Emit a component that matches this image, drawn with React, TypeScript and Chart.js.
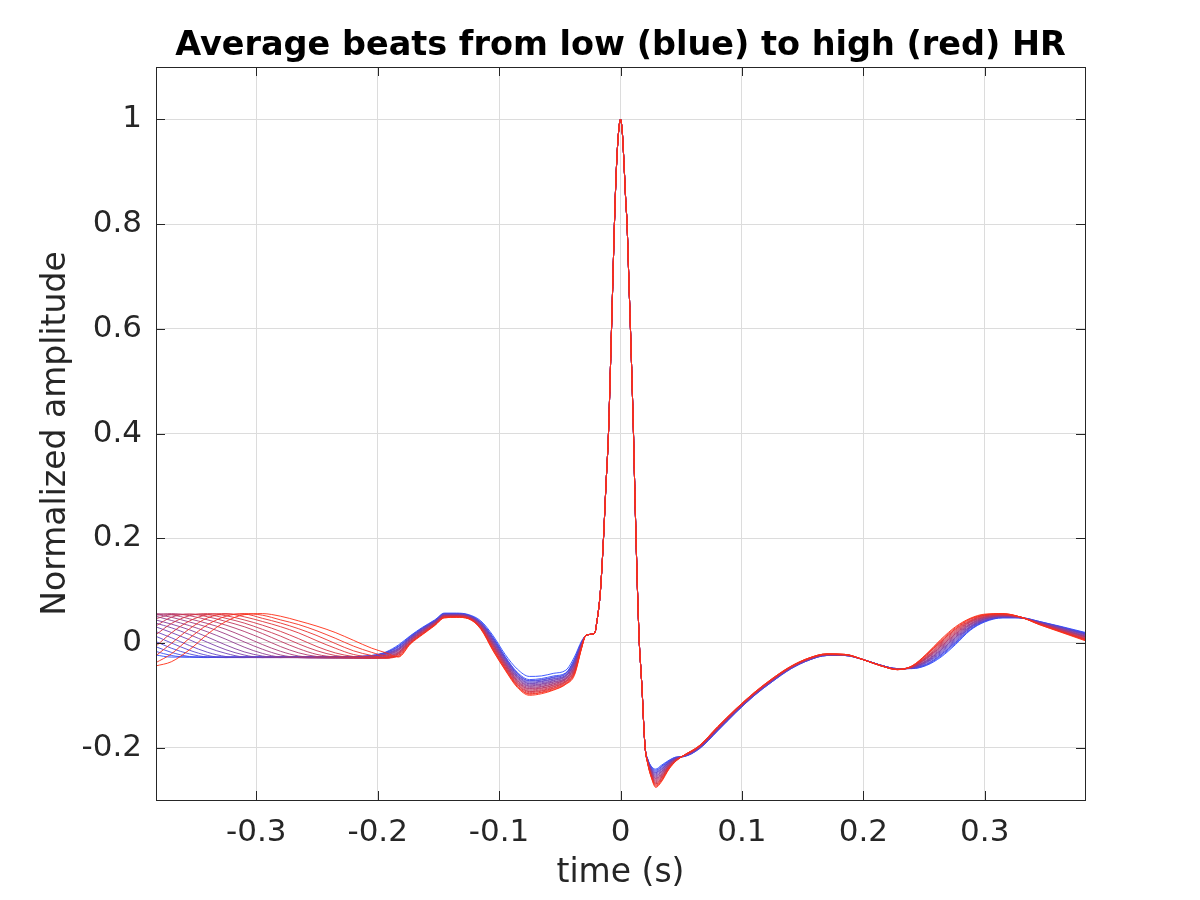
import { useEffect, useRef } from 'react';
import Chart from 'chart.js/auto';

// axis ticks
const X_TICKS = [-0.3, -0.2, -0.1, 0, 0.1, 0.2, 0.3];
const Y_TICKS = [-0.2, 0, 0.2, 0.4, 0.6, 0.8, 1];

// beats, row 0 = lowest HR (blue) ... row 19 = highest HR (red)
// segment 1: tail of previous beat
const LEFT_X = [-0.383, -0.37, -0.355, -0.34, -0.325, -0.31, -0.295, -0.28, -0.265, -0.25, -0.235, -0.22, -0.205, -0.193];
const LEFT_Y = [
  [-0.023, -0.027, -0.027, -0.027, -0.027, -0.027, -0.027, -0.027, -0.027, -0.027, -0.026, -0.026, -0.024, -0.017],
  [-0.016, -0.024, -0.027, -0.027, -0.027, -0.027, -0.027, -0.027, -0.027, -0.027, -0.026, -0.026, -0.024, -0.018],
  [-0.007, -0.018, -0.026, -0.028, -0.027, -0.027, -0.027, -0.027, -0.027, -0.027, -0.027, -0.026, -0.025, -0.018],
  [0.003, -0.010, -0.021, -0.027, -0.028, -0.027, -0.027, -0.027, -0.027, -0.027, -0.027, -0.026, -0.025, -0.019],
  [0.013, 0.000, -0.014, -0.024, -0.028, -0.028, -0.027, -0.027, -0.027, -0.027, -0.027, -0.027, -0.025, -0.020],
  [0.022, 0.010, -0.005, -0.018, -0.026, -0.028, -0.028, -0.027, -0.027, -0.027, -0.027, -0.027, -0.026, -0.020],
  [0.031, 0.020, 0.006, -0.009, -0.020, -0.027, -0.028, -0.028, -0.027, -0.027, -0.027, -0.027, -0.026, -0.021],
  [0.038, 0.029, 0.016, 0.001, -0.013, -0.023, -0.028, -0.028, -0.028, -0.028, -0.027, -0.027, -0.027, -0.022],
  [0.044, 0.036, 0.025, 0.011, -0.004, -0.017, -0.025, -0.028, -0.028, -0.028, -0.028, -0.028, -0.027, -0.023],
  [0.051, 0.043, 0.033, 0.021, 0.007, -0.008, -0.020, -0.027, -0.028, -0.028, -0.028, -0.028, -0.028, -0.024],
  [0.055, 0.049, 0.040, 0.030, 0.017, 0.002, -0.012, -0.023, -0.028, -0.029, -0.029, -0.028, -0.028, -0.025],
  [0.056, 0.054, 0.046, 0.037, 0.026, 0.012, -0.003, -0.016, -0.025, -0.028, -0.029, -0.029, -0.029, -0.026],
  [0.053, 0.056, 0.052, 0.044, 0.034, 0.022, 0.008, -0.007, -0.019, -0.026, -0.028, -0.029, -0.029, -0.027],
  [0.046, 0.054, 0.055, 0.050, 0.041, 0.031, 0.018, 0.003, -0.011, -0.022, -0.027, -0.029, -0.029, -0.028],
  [0.032, 0.049, 0.055, 0.054, 0.047, 0.038, 0.026, 0.013, -0.002, -0.015, -0.024, -0.028, -0.029, -0.029],
  [0.015, 0.037, 0.052, 0.056, 0.052, 0.044, 0.034, 0.022, 0.008, -0.007, -0.019, -0.026, -0.029, -0.029],
  [-0.007, 0.019, 0.042, 0.054, 0.056, 0.050, 0.041, 0.031, 0.019, 0.004, -0.010, -0.022, -0.027, -0.029],
  [-0.025, -0.001, 0.027, 0.048, 0.055, 0.055, 0.047, 0.038, 0.027, 0.014, -0.001, -0.015, -0.024, -0.028],
  [-0.038, -0.021, 0.009, 0.035, 0.051, 0.056, 0.053, 0.044, 0.035, 0.023, 0.009, -0.006, -0.018, -0.025],
  [-0.044, -0.036, -0.013, 0.017, 0.041, 0.054, 0.056, 0.051, 0.042, 0.032, 0.020, 0.005, -0.010, -0.019],
];

// segment 2: P wave and the dip before QRS
const MID_X = [-0.183, -0.173, -0.163, -0.153, -0.145, -0.135, -0.125, -0.115, -0.105, -0.095, -0.085, -0.075, -0.065, -0.055, -0.045, -0.038, -0.032];
const MID_Y = [
  [-0.004, 0.014, 0.030, 0.044, 0.057, 0.057, 0.054, 0.042, 0.014, -0.022, -0.050, -0.064, -0.063, -0.058, -0.052, -0.027, 0.004],
  [-0.006, 0.013, 0.029, 0.043, 0.056, 0.056, 0.053, 0.040, 0.011, -0.026, -0.056, -0.070, -0.068, -0.063, -0.057, -0.031, 0.002],
  [-0.007, 0.012, 0.028, 0.042, 0.056, 0.056, 0.053, 0.039, 0.010, -0.027, -0.058, -0.072, -0.070, -0.065, -0.058, -0.033, 0.001],
  [-0.008, 0.011, 0.028, 0.042, 0.055, 0.055, 0.052, 0.038, 0.008, -0.029, -0.059, -0.073, -0.071, -0.066, -0.059, -0.034, 0.001],
  [-0.010, 0.010, 0.027, 0.041, 0.055, 0.055, 0.052, 0.038, 0.007, -0.030, -0.061, -0.075, -0.073, -0.068, -0.061, -0.036, 0.000],
  [-0.011, 0.010, 0.026, 0.041, 0.054, 0.054, 0.051, 0.037, 0.005, -0.032, -0.062, -0.077, -0.074, -0.069, -0.062, -0.038, -0.001],
  [-0.012, 0.009, 0.025, 0.040, 0.054, 0.054, 0.051, 0.036, 0.004, -0.033, -0.064, -0.078, -0.076, -0.071, -0.063, -0.040, -0.002],
  [-0.013, 0.008, 0.025, 0.040, 0.053, 0.054, 0.051, 0.035, 0.002, -0.035, -0.066, -0.080, -0.078, -0.072, -0.064, -0.041, -0.002],
  [-0.014, 0.007, 0.024, 0.039, 0.053, 0.053, 0.050, 0.035, 0.001, -0.036, -0.067, -0.082, -0.079, -0.074, -0.066, -0.043, -0.003],
  [-0.015, 0.006, 0.023, 0.039, 0.052, 0.053, 0.050, 0.034, -0.001, -0.038, -0.069, -0.083, -0.081, -0.075, -0.067, -0.045, -0.003],
  [-0.017, 0.005, 0.023, 0.038, 0.052, 0.052, 0.049, 0.033, -0.002, -0.039, -0.071, -0.085, -0.083, -0.077, -0.068, -0.046, -0.004],
  [-0.018, 0.005, 0.022, 0.038, 0.052, 0.052, 0.049, 0.032, -0.003, -0.040, -0.072, -0.087, -0.084, -0.078, -0.069, -0.048, -0.005],
  [-0.019, 0.004, 0.021, 0.037, 0.051, 0.052, 0.049, 0.031, -0.005, -0.042, -0.074, -0.088, -0.086, -0.080, -0.070, -0.050, -0.005],
  [-0.020, 0.003, 0.020, 0.036, 0.051, 0.051, 0.048, 0.031, -0.006, -0.043, -0.075, -0.090, -0.087, -0.081, -0.072, -0.052, -0.006],
  [-0.021, 0.002, 0.020, 0.036, 0.050, 0.051, 0.048, 0.030, -0.008, -0.045, -0.077, -0.092, -0.089, -0.083, -0.073, -0.053, -0.007],
  [-0.022, 0.001, 0.019, 0.035, 0.050, 0.050, 0.047, 0.029, -0.009, -0.046, -0.079, -0.093, -0.091, -0.084, -0.074, -0.055, -0.007],
  [-0.024, 0.000, 0.018, 0.035, 0.049, 0.050, 0.047, 0.028, -0.011, -0.048, -0.080, -0.095, -0.092, -0.086, -0.075, -0.057, -0.008],
  [-0.025, 0.000, 0.017, 0.034, 0.049, 0.050, 0.047, 0.028, -0.012, -0.049, -0.082, -0.097, -0.094, -0.087, -0.077, -0.058, -0.009],
  [-0.026, -0.001, 0.017, 0.034, 0.048, 0.049, 0.046, 0.027, -0.014, -0.051, -0.083, -0.098, -0.095, -0.089, -0.078, -0.060, -0.009],
  [-0.027, -0.002, 0.016, 0.033, 0.048, 0.049, 0.046, 0.026, -0.015, -0.052, -0.085, -0.100, -0.097, -0.090, -0.079, -0.062, -0.010],
];

// segment 3: QRS, same for all beats
const QRS_X = [-0.029, -0.026, -0.023, -0.021, -0.0195, -0.018, -0.0165, -0.014, -0.012, -0.0099, -0.0086, -0.0074, -0.0062, -0.005, -0.0035, -0.0018, 0, 0.0015, 0.003, 0.0042, 0.0054, 0.0068, 0.0082, 0.0095, 0.0107, 0.0117, 0.0128, 0.014, 0.0155, 0.0165, 0.0178, 0.019, 0.0203];
const QRS_Y = [0.013, 0.016, 0.017, 0.02, 0.04, 0.065, 0.1, 0.2, 0.3, 0.4, 0.5, 0.6, 0.7, 0.8, 0.9, 0.97, 1.0, 0.975, 0.91, 0.85, 0.8, 0.7, 0.6, 0.5, 0.4, 0.3, 0.2, 0.1, 0.0, -0.04, -0.09, -0.15, -0.2];

// segment 4: S trough
const TROUGH_X = [0.0225, 0.0255, 0.029, 0.0335, 0.04, 0.046];
const TROUGH_Y = [
  [-0.222, -0.236, -0.241, -0.234, -0.224, -0.218],
  [-0.223, -0.237, -0.243, -0.236, -0.225, -0.218],
  [-0.223, -0.238, -0.245, -0.237, -0.226, -0.219],
  [-0.224, -0.239, -0.247, -0.239, -0.227, -0.219],
  [-0.224, -0.241, -0.248, -0.241, -0.228, -0.219],
  [-0.225, -0.242, -0.250, -0.242, -0.228, -0.220],
  [-0.225, -0.243, -0.252, -0.244, -0.229, -0.220],
  [-0.226, -0.244, -0.254, -0.246, -0.230, -0.221],
  [-0.226, -0.245, -0.256, -0.247, -0.231, -0.221],
  [-0.227, -0.246, -0.258, -0.249, -0.232, -0.221],
  [-0.227, -0.248, -0.259, -0.251, -0.233, -0.222],
  [-0.228, -0.249, -0.261, -0.252, -0.234, -0.222],
  [-0.228, -0.250, -0.263, -0.254, -0.235, -0.222],
  [-0.229, -0.251, -0.265, -0.256, -0.236, -0.223],
  [-0.229, -0.252, -0.267, -0.258, -0.236, -0.223],
  [-0.230, -0.253, -0.269, -0.259, -0.237, -0.224],
  [-0.230, -0.255, -0.270, -0.261, -0.238, -0.224],
  [-0.231, -0.256, -0.272, -0.263, -0.239, -0.224],
  [-0.231, -0.257, -0.274, -0.264, -0.240, -0.225],
  [-0.232, -0.258, -0.276, -0.266, -0.241, -0.225],
];

// segment 5: ST recovery and T wave
const RIGHT_X = [0.052, 0.065, 0.08, 0.095, 0.11, 0.125, 0.14, 0.155, 0.17, 0.185, 0.2, 0.215, 0.228, 0.24, 0.252, 0.264, 0.276, 0.288, 0.3, 0.315, 0.33, 0.345, 0.362, 0.383];
const RIGHT_Y = [
  [-0.217, -0.202, -0.168, -0.133, -0.101, -0.074, -0.050, -0.033, -0.024, -0.024, -0.032, -0.043, -0.049, -0.049, -0.043, -0.027, -0.003, 0.024, 0.040, 0.048, 0.048, 0.041, 0.032, 0.020],
  [-0.217, -0.202, -0.168, -0.133, -0.101, -0.074, -0.050, -0.033, -0.024, -0.024, -0.032, -0.043, -0.049, -0.049, -0.042, -0.025, -0.001, 0.025, 0.041, 0.048, 0.048, 0.041, 0.031, 0.019],
  [-0.217, -0.201, -0.167, -0.132, -0.100, -0.073, -0.049, -0.033, -0.024, -0.024, -0.032, -0.043, -0.049, -0.048, -0.041, -0.023, 0.001, 0.026, 0.042, 0.049, 0.048, 0.040, 0.031, 0.018],
  [-0.217, -0.201, -0.167, -0.132, -0.100, -0.073, -0.049, -0.032, -0.024, -0.024, -0.032, -0.043, -0.049, -0.048, -0.040, -0.022, 0.002, 0.028, 0.042, 0.049, 0.048, 0.040, 0.030, 0.017],
  [-0.217, -0.201, -0.166, -0.132, -0.100, -0.073, -0.049, -0.032, -0.023, -0.024, -0.032, -0.043, -0.049, -0.048, -0.038, -0.020, 0.004, 0.029, 0.043, 0.050, 0.048, 0.040, 0.030, 0.017],
  [-0.216, -0.200, -0.166, -0.131, -0.099, -0.072, -0.049, -0.032, -0.023, -0.023, -0.032, -0.043, -0.050, -0.048, -0.037, -0.018, 0.006, 0.030, 0.044, 0.050, 0.048, 0.039, 0.029, 0.016],
  [-0.216, -0.200, -0.165, -0.131, -0.099, -0.072, -0.048, -0.032, -0.023, -0.023, -0.032, -0.043, -0.050, -0.047, -0.036, -0.016, 0.008, 0.031, 0.045, 0.051, 0.048, 0.039, 0.029, 0.015],
  [-0.216, -0.200, -0.165, -0.130, -0.099, -0.072, -0.048, -0.032, -0.023, -0.023, -0.032, -0.043, -0.050, -0.047, -0.035, -0.014, 0.010, 0.032, 0.046, 0.051, 0.048, 0.039, 0.028, 0.014],
  [-0.216, -0.199, -0.165, -0.130, -0.098, -0.071, -0.048, -0.031, -0.023, -0.023, -0.032, -0.043, -0.050, -0.047, -0.034, -0.013, 0.011, 0.034, 0.046, 0.051, 0.048, 0.038, 0.027, 0.013],
  [-0.216, -0.199, -0.164, -0.130, -0.098, -0.071, -0.048, -0.031, -0.023, -0.023, -0.032, -0.043, -0.050, -0.047, -0.033, -0.011, 0.013, 0.035, 0.047, 0.052, 0.048, 0.038, 0.027, 0.012],
  [-0.216, -0.199, -0.164, -0.129, -0.098, -0.071, -0.047, -0.031, -0.022, -0.023, -0.032, -0.044, -0.050, -0.046, -0.031, -0.009, 0.015, 0.036, 0.048, 0.052, 0.049, 0.038, 0.026, 0.012],
  [-0.216, -0.199, -0.163, -0.129, -0.098, -0.071, -0.047, -0.031, -0.022, -0.023, -0.032, -0.044, -0.050, -0.046, -0.030, -0.007, 0.017, 0.037, 0.049, 0.053, 0.049, 0.038, 0.026, 0.011],
  [-0.216, -0.198, -0.163, -0.129, -0.097, -0.070, -0.047, -0.030, -0.022, -0.023, -0.032, -0.044, -0.050, -0.046, -0.029, -0.006, 0.018, 0.039, 0.049, 0.053, 0.049, 0.037, 0.025, 0.010],
  [-0.216, -0.198, -0.163, -0.128, -0.097, -0.070, -0.047, -0.030, -0.022, -0.023, -0.032, -0.044, -0.050, -0.046, -0.028, -0.004, 0.020, 0.040, 0.050, 0.053, 0.049, 0.037, 0.024, 0.009],
  [-0.216, -0.198, -0.162, -0.128, -0.097, -0.070, -0.046, -0.030, -0.022, -0.023, -0.032, -0.044, -0.050, -0.045, -0.027, -0.002, 0.022, 0.041, 0.051, 0.054, 0.049, 0.037, 0.024, 0.008],
  [-0.215, -0.197, -0.162, -0.127, -0.096, -0.069, -0.046, -0.030, -0.022, -0.022, -0.032, -0.044, -0.051, -0.045, -0.026, 0.000, 0.024, 0.042, 0.052, 0.054, 0.049, 0.036, 0.023, 0.007],
  [-0.215, -0.197, -0.161, -0.127, -0.096, -0.069, -0.046, -0.030, -0.021, -0.022, -0.032, -0.044, -0.051, -0.045, -0.024, 0.002, 0.026, 0.043, 0.053, 0.055, 0.049, 0.036, 0.023, 0.007],
  [-0.215, -0.197, -0.161, -0.127, -0.096, -0.069, -0.046, -0.029, -0.021, -0.022, -0.032, -0.044, -0.051, -0.045, -0.023, 0.003, 0.027, 0.045, 0.053, 0.055, 0.049, 0.036, 0.022, 0.006],
  [-0.215, -0.196, -0.160, -0.126, -0.095, -0.068, -0.045, -0.029, -0.021, -0.022, -0.032, -0.044, -0.051, -0.044, -0.022, 0.005, 0.029, 0.046, 0.054, 0.056, 0.049, 0.035, 0.022, 0.005],
  [-0.215, -0.196, -0.160, -0.126, -0.095, -0.068, -0.045, -0.029, -0.021, -0.022, -0.032, -0.044, -0.051, -0.044, -0.021, 0.007, 0.031, 0.047, 0.055, 0.056, 0.049, 0.035, 0.021, 0.004],
];

const TITLE = 'Average beats from low (blue) to high (red) HR';
const X_LABEL = 'time (s)';
const Y_LABEL = 'Normalized amplitude';

const FONT = 'DejaVu Sans';
const AXIS_COLOR = '#262626';

const beatColor = (k: number, n: number) => {
  const t = n > 1 ? k / (n - 1) : 0;
  const r = Math.round(45 + (255 - 45) * t);
  const g = Math.round(75 + (45 - 75) * t);
  const b = Math.round(255 + (20 - 255) * t);
  return `rgb(${r},${g},${b})`;
};

const pts = (xs: number[], ys: number[]) => xs.map((x, i) => ({ x, y: ys[i] }));

// box with inward ticks on all four sides, and the title centred over the axes
const framePlugin = {
  id: 'frame',
  afterDatasetsDraw(chart: any) {
    const { ctx, chartArea: a, scales } = chart;
    const len = 9;
    ctx.save();
    ctx.strokeStyle = AXIS_COLOR;
    ctx.lineWidth = 1;
    ctx.beginPath();
    X_TICKS.forEach((v) => {
      const px = Math.round(scales.x.getPixelForValue(v)) + 0.5;
      ctx.moveTo(px, a.bottom);
      ctx.lineTo(px, a.bottom - len);
      ctx.moveTo(px, a.top);
      ctx.lineTo(px, a.top + len);
    });
    Y_TICKS.forEach((v) => {
      const py = Math.round(scales.y.getPixelForValue(v)) + 0.5;
      ctx.moveTo(a.left, py);
      ctx.lineTo(a.left + len, py);
      ctx.moveTo(a.right, py);
      ctx.lineTo(a.right - len, py);
    });
    ctx.stroke();
    ctx.strokeRect(Math.round(a.left) + 0.5, Math.round(a.top) + 0.5, Math.round(a.right - a.left), Math.round(a.bottom - a.top));

    ctx.fillStyle = '#000';
    ctx.font = `bold 33.5px "${FONT}"`;
    ctx.textAlign = 'center';
    ctx.textBaseline = 'alphabetic';
    ctx.fillText(TITLE, (a.left + a.right) / 2, 55);
    ctx.restore();
  },
};

const App = () => {
  const canvasRef = useRef<HTMLCanvasElement>(null);

  useEffect(() => {
    if (!canvasRef.current) return;
    const n = LEFT_Y.length;

    const datasets = [];
    // red (high HR) first so it is drawn on top
    for (let k = n - 1; k >= 0; k--) {
      datasets.push({
        data: [
          ...pts(LEFT_X, LEFT_Y[k]),
          ...pts(MID_X, MID_Y[k]),
          ...pts(QRS_X, QRS_Y),
          ...pts(TROUGH_X, TROUGH_Y[k]),
          ...pts(RIGHT_X, RIGHT_Y[k]),
        ],
        borderColor: beatColor(k, n),
        borderWidth: 0.9,
        pointRadius: 0,
        fill: false,
        cubicInterpolationMode: 'monotone' as const,
      });
    }

    const chart = new Chart(canvasRef.current, {
      type: 'line',
      data: { datasets },
      options: {
        responsive: false,
        devicePixelRatio: 1,
        animation: false,
        events: [],
        layout: { padding: { left: 0, right: 115, top: 67, bottom: 0 } },
        plugins: {
          legend: { display: false },
          tooltip: { enabled: false },
          title: { display: false },
        },
        scales: {
          x: {
            type: 'linear',
            min: -0.3826,
            max: 0.3826,
            afterBuildTicks: (axis: any) => {
              axis.ticks = X_TICKS.map((value) => ({ value }));
            },
            afterFit: (axis: any) => {
              axis.height = 100;
            },
            ticks: {
              autoSkip: false,
              maxRotation: 0,
              padding: 14,
              color: AXIS_COLOR,
              font: { family: FONT, size: 31 },
              callback: (v: any) => String(Math.round(Number(v) * 10) / 10),
            },
            grid: { color: '#dcdcdc', drawTicks: false },
            border: { display: false },
            title: {
              display: true,
              text: X_LABEL,
              color: AXIS_COLOR,
              font: { family: FONT, size: 33 },
              padding: { top: 7, bottom: 7 },
            },
          },
          y: {
            type: 'linear',
            min: -0.3,
            max: 1.1,
            afterBuildTicks: (axis: any) => {
              axis.ticks = Y_TICKS.map((value) => ({ value }));
            },
            afterFit: (axis: any) => {
              axis.width = 156;
            },
            ticks: {
              autoSkip: false,
              padding: 14,
              color: AXIS_COLOR,
              font: { family: FONT, size: 31 },
              callback: (v: any) => String(Math.round(Number(v) * 10) / 10),
            },
            grid: { color: '#dcdcdc', drawTicks: false },
            border: { display: false },
            title: {
              display: true,
              text: Y_LABEL,
              color: AXIS_COLOR,
              font: { family: FONT, size: 33 },
              padding: { top: 37, bottom: 37 },
            },
          },
        },
      },
      plugins: [framePlugin],
    });

    return () => {
      chart.destroy();
    };
  }, []);

  return (
    <div style={{ position: 'fixed', left: 0, top: 0, width: 1200, height: 900, background: '#fff' }}>
      <canvas ref={canvasRef} width={1200} height={900} style={{ display: 'block' }} />
    </div>
  );
};

export default App;
